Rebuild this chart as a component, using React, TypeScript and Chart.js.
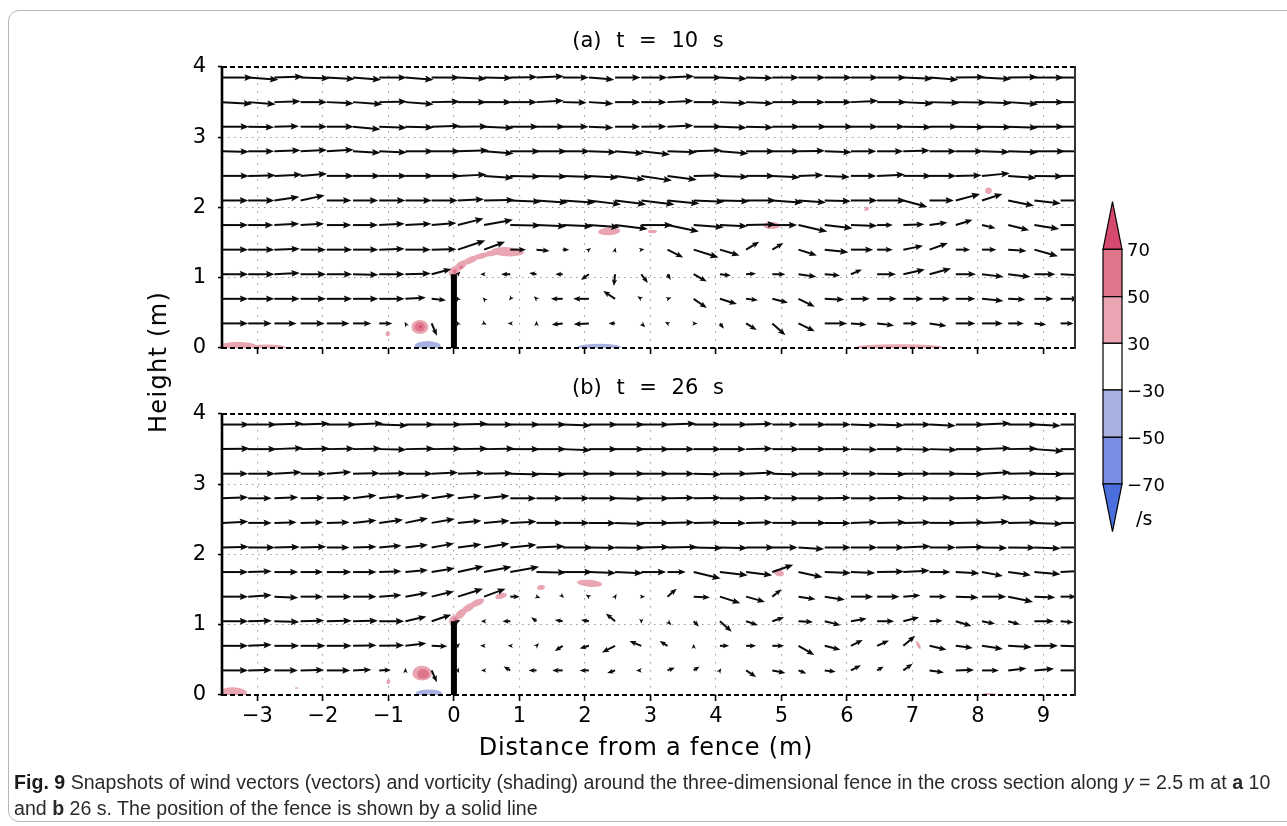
import React, { useEffect, useRef } from "react";
import { Chart, registerables } from "chart.js";
Chart.register(...registerables);

const FONT = "'DejaVu Sans', sans-serif";

const X_TICKS = [-3, -2, -1, 0, 1, 2, 3, 4, 5, 6, 7, 8, 9];
const Y_TICKS = [0, 1, 2, 3, 4];
const X_RANGE = [-3.54, 9.48];
const Y_RANGE = [0, 4];

// model grid of the vectors (tail positions)
const GRID_X = [-3.54, -3.14, -2.74, -2.34, -1.94, -1.54, -1.14, -0.74, -0.34, 0.06, 0.46, 0.86, 1.26, 1.66, 2.06, 2.46, 2.86,
  3.26, 3.66, 4.06, 4.46, 4.86, 5.26, 5.66, 6.06, 6.46, 6.86, 7.26, 7.66, 8.06, 8.46, 8.86, 9.26];
const GRID_Y = [0.35, 0.7, 1.05, 1.4, 1.75, 2.1, 2.45, 2.8, 3.15, 3.5, 3.85];

const FENCE_X = [0, 0];
const FENCE_Y = [0, 1.05];

// ---------- panel (a) t = 10 s : u, v (relative to grid spacing) ----------
const A_U_035 = [1.0, 0.9, 0.85, 0.92, 0.87, 0.7, 0.5, -0.03, 0.2, -0.05, 0.1, -0.1, 0, -0.42, -0.58, -0.25, 0.15,
  -0.1, 0.15, 0.15, 0.4, 0.5, 0.62, 0.85, 0.6, 0.65, 0.55, 0.65, 0.75, 0.8, 0.6, 0.45, 0.5];
const A_V_035 = [0, 0, 0, 0, 0, 0, 0, 0.06, -0.47, 0.1, -0.05, 0, 0.1, -0.05, -0.03, 0, -0.15,
  0.05, 0, -0.2, -0.25, -0.45, -0.3, 0, -0.05, -0.08, 0, -0.1, 0, 0, 0, -0.05, 0];
const A_U_070 = [1.0, 1.0, 0.97, 0.97, 0.97, 0.97, 0.97, 0.78, 0.55, -0.05, -0.05, -0.05, -0.1, -0.45, -0.6, -0.45, -0.15,
  0.15, 0.5, 0.65, 0.45, 0.6, 0.62, 0.75, 0.72, 0.75, 0.77, 0.78, 0.75, 0.82, 0.65, 0.72, 0.7];
const A_V_070 = [0, 0, 0, 0, 0, 0, 0, 0.05, -0.05, 0.1, 0.06, -0.06, 0.1, 0, 0, 0.3, 0.1,
  0.05, -0.35, -0.2, -0.05, -0.15, -0.3, -0.03, 0, 0, 0, 0, 0, -0.08, -0.03, 0, 0];
const A_U_105 = [1.0, 1.0, 0.97, 0.97, 0.97, 0.97, 0.97, 0.97, 0.75, 0.1, -0.15, -0.35, -0.28, -0.28, -0.3, -0.05, 0.25,
  0.12, 0.5, 0.42, 0.38, 0.5, 0.68, 0.58, 0.42, 0.72, 0.82, 0.82, 0.77, 0.82, 0.85, 0.8, 0.85];
const A_V_105 = [0, 0, 0.05, 0, 0, -0.02, 0, 0.03, 0.2, 0.1, 0, 0, 0.05, 0, -0.22, -0.45, -0.33,
  -0.22, -0.28, -0.05, 0.03, 0, -0.1, -0.05, 0.18, 0, 0.18, 0.22, 0, -0.1, -0.1, 0, -0.05];
const A_U_140 = [1.0, 1.0, 0.97, 0.97, 0.97, 0.97, 0.97, 0.97, 0.95, 1.05, 0.8, 0.6, 0.5, 0.25, 0.08, 0.02, 0.12,
  0.6, 0.95, 0.75, 0.5, 0.42, 0.7, 0.9, 0.85, 0.6, 0.75, 0.7, 0.55, 0.55, 0.7, 0.9, 0.95];
const A_V_140 = [0, 0, 0.03, 0, 0, 0, 0.03, 0, 0.02, 0.35, 0.3, 0, -0.05, 0, 0.06, 0.08, 0.02,
  -0.3, -0.3, -0.22, 0.3, 0.25, -0.22, -0.1, 0, 0, 0.15, 0.25, 0, 0, -0.05, -0.25, 0];
const A_U_175 = [1.0, 0.96, 0.95, 0.9, 0.94, 0.96, 0.97, 0.99, 0.95, 0.98, 1.1, 1.17, 1.14, 1.15, 1.17, 1.25,
  1.2, 1.2, 1.15, 1.06, 1.14, 0.95, 1.1, 1.06, 1.01, 0.6, 0.8, 0.68, 0.64, 0.52, 0.8, 0.95, 0.95];
const A_V_175 = [0, 0, 0.05, 0.05, 0, 0, 0.05, 0.05, 0.08, 0.25, 0.2, -0.02, -0.05, -0.05, -0.08, -0.15,
  0, -0.25, -0.08, -0.05, 0.03, 0, -0.25, -0.12, -0.03, 0, 0.03, 0.1, 0.2, -0.12, -0.2, -0.15, 0];
const A_U_210 = [1.0, 1.0, 0.95, 0.92, 0.94, 0.96, 1.0, 1.0, 1.0, 1.0, 1.17, 1.19, 1.2, 1.25, 1.23, 1.19,
  1.27, 1.22, 1.18, 1.13, 1.14, 1.17, 1.05, 1.0, 1.01, 1.1, 0.92, 0.93, 0.93, 0.78, 0.99, 1.01, 1.0];
const A_V_210 = [0, 0, 0.14, 0.2, 0, 0, 0, 0, 0, 0.05, 0.02, -0.05, -0.08, -0.08, -0.15, -0.15,
  -0.15, -0.12, -0.05, -0.03, 0, -0.08, -0.08, -0.03, 0, 0, -0.25, 0, 0.25, 0.25, -0.2, -0.12, 0];
const A_U_245 = [1.03, 1.05, 1.06, 1.01, 1.03, 1.05, 1.06, 1.08, 1.1, 1.09, 1.13, 1.15, 1.17, 1.12, 1.13, 1.15,
  1.17, 1.12, 1.08, 1.09, 1.1, 1.06, 0.95, 0.96, 0.97, 1.06, 1.08, 1.03, 0.99, 1.06, 1.08, 1.1, 1.05];
const A_V_245 = [0, 0.02, 0.05, 0.08, 0, 0, 0, 0, 0, 0.05, -0.08, -0.03, -0.03, -0.04, -0.07, -0.15,
  -0.18, -0.15, 0.02, -0.04, 0, -0.06, 0.03, -0.04, 0, 0.05, 0, 0, 0.02, 0.1, -0.08, -0.02, 0];
const A_U_280 = [1.03, 0.99, 1.0, 1.01, 1.03, 1.05, 1.06, 1.08, 1.1, 1.18, 1.13, 1.15, 1.17, 1.05, 1.06, 1.09,
  1.1, 1.12, 1.08, 1.09, 1.1, 1.06, 1.01, 1.03, 0.97, 1.0, 1.01, 1.03, 1.05, 1.06, 1.14, 1.17, 1.1];
const A_V_280 = [-0.02, 0, 0.04, 0.05, 0.06, -0.06, -0.05, 0, 0, 0.04, -0.08, 0, 0, 0, -0.04, -0.08,
  -0.12, -0.04, 0.04, -0.08, 0, 0, 0.02, -0.04, 0, 0, 0.03, 0, 0, -0.03, -0.04, 0, 0];
const A_U_315 = [1.03, 0.99, 0.94, 1.01, 1.03, 1.05, 1.06, 1.08, 1.1, 1.15, 1.13, 1.09, 1.1, 0.99, 0.94, 0.96,
  0.97, 0.99, 1.08, 1.03, 1.04, 1.06, 1.08, 1.09, 1.04, 1.06, 1.08, 1.09, 1.11, 1.13, 1.14, 1.14, 1.1];
const A_V_315 = [0, -0.02, 0.02, 0, 0, -0.1, -0.04, -0.03, 0.03, 0.01, -0.05, 0, 0, 0, -0.04, 0,
  0.01, 0.05, 0, -0.04, -0.03, 0, 0, 0, 0, 0, -0.02, 0, -0.02, -0.02, -0.04, 0, 0];
const A_U_350 = [1.15, 1.05, 1.0, 1.01, 1.03, 1.12, 1.06, 1.08, 1.08, 1.09, 1.06, 1.03, 1.04, 0.92, 0.94, 0.96,
  0.97, 0.99, 1.01, 1.03, 1.04, 1.06, 1.01, 1.03, 1.04, 1.13, 1.14, 1.15, 1.18, 1.13, 1.14, 1.14, 1.1];
const A_V_350 = [-0.07, -0.08, 0.03, 0, -0.05, -0.08, 0.02, -0.08, 0.02, 0, 0, 0, 0.06, -0.02, -0.06, 0,
  0, 0.05, 0, -0.04, -0.05, 0, 0, 0, 0.05, 0, -0.06, -0.03, -0.02, -0.04, -0.08, 0, 0];
const A_U_385 = [1.18, 1.15, 1.1, 1.12, 1.07, 1.07, 1.05, 1.07, 1.08, 1.1, 1.08, 1.04, 1.05, 1.0, 0.97, 0.97,
  1.0, 1.02, 1.08, 1.04, 1.03, 1.02, 1.03, 1.04, 1.05, 1.12, 1.13, 1.1, 1.12, 1.12, 1.13, 1.13, 1.1];
const A_V_385 = [0, -0.08, 0.04, -0.03, -0.06, -0.08, 0, -0.08, 0, -0.05, -0.02, 0.02, 0.05, 0, -0.08, 0,
  0, 0.05, 0, -0.05, -0.02, 0, 0, 0, 0, 0, -0.05, -0.08, 0.02, -0.06, 0.02, 0, 0];

// ---------- panel (b) t = 26 s ----------
const B_U_035 = [1.0, 0.9, 0.9, 0.9, 0.9, 0.7, 0.45, 0, 0.2, 0.05, -0.12, -0.25, -0.3, -0.4, -0.35, -0.3, -0.2,
  0.28, 0.22, 0.05, 0.38, 0.5, 0.3, 0.42, 0.38, 0.25, 0.35, 0.55, 0.7, 0.65, 0.7, 0.75, 0.8];
const B_V_035 = [0, 0.02, 0, 0.02, 0, 0.03, 0.02, 0.1, -0.45, -0.1, 0, 0.15, 0, 0, 0, -0.1, 0,
  0.1, 0.15, 0.08, -0.25, -0.1, -0.12, -0.05, 0.2, 0.15, 0.25, -0.08, 0.02, 0, 0.08, 0.06, 0];
const B_U_070 = [1.0, 0.9, 0.95, 0.95, 0.95, 0.9, 0.95, 0.8, 0.6, 0, -0.15, -0.1, 0.1, -0.3, -0.35, -0.5, -0.45,
  -0.3, 0, 0.35, 0.38, 0.45, 0.6, 0.6, 0.45, 0.45, 0.45, 0.65, 0.65, 0.8, 0.9, 0.9, 0.85];
const B_V_070 = [0, 0.04, 0, 0, 0, 0.02, 0.02, 0.1, -0.02, -0.1, 0, 0, 0.1, -0.2, -0.1, -0.25, 0.18,
  0.18, 0.08, 0, 0, 0, -0.35, -0.15, 0.22, 0.2, 0.38, -0.15, -0.08, -0.12, -0.05, 0, -0.03];
const B_U_105 = [1.0, 0.9, 0.95, 0.9, 0.95, 0.95, 0.95, 0.8, 0.75, 0.1, -0.12, -0.3, -0.2, -0.3, -0.3, -0.35, 0,
  0.15, 0.2, 0.45, 0.45, 0.45, 0.55, 0.6, 0.6, 0.65, 0.6, 0.5, 0.6, 0.5, 0.45, 0.75, 0.5];
const B_V_105 = [0, 0.02, -0.03, 0.03, 0.02, 0.02, 0, 0.18, 0.25, 0.05, 0, 0, 0.15, 0.05, 0.05, 0.3, -0.1,
  -0.15, -0.2, -0.4, -0.15, 0.15, -0.03, -0.15, 0.1, 0, 0.15, 0.02, -0.18, -0.1, -0.12, 0, -0.05];
const B_U_140 = [1.0, 0.9, 0.91, 0.86, 0.94, 0.9, 0.85, 0.86, 0.85, 0.96, 0.82, 0.36, 0.15, 0.05, -0.12, 0.06, 0.15,
  0.35, 0.62, 0.78, 0.72, 0.35, 0.65, 0.77, 0.85, 0.85, 0.65, 0.65, 0.87, 0.93, 0.95, 0.8, 0.6];
const B_V_140 = [0, 0.06, -0.04, 0, 0, 0, 0.06, 0.15, 0.2, 0.3, 0.3, 0, -0.05, -0.05, 0.08, 0.1, 0,
  0.3, -0.03, -0.25, -0.2, 0.28, -0.1, -0.12, 0, 0, 0.05, 0, -0.03, 0, -0.2, -0.03, 0];
const B_U_175 = [1.0, 0.9, 0.91, 0.86, 0.94, 0.9, 0.85, 0.86, 0.88, 0.98, 1.05, 1.1, 1.14, 1.15, 1.04, 1.06,
  0.95, 0.7, 1.03, 1.06, 1.0, 0.8, 0.92, 1.0, 0.93, 1.03, 1.0, 0.8, 0.9, 0.8, 0.87, 1.0, 0.9];
const B_V_175 = [0, 0.03, 0, 0, 0, 0, 0.03, 0.08, 0.15, 0.22, 0.2, 0.2, -0.02, 0, -0.04, -0.05,
  0, 0, -0.25, -0.12, -0.12, 0.28, -0.2, -0.04, -0.04, 0.02, 0.06, 0, -0.05, -0.15, -0.12, -0.08, 0.05];
const B_U_210 = [1.02, 1.02, 0.97, 0.98, 0.87, 0.9, 0.85, 0.86, 0.85, 0.9, 0.97, 1.0, 1.08, 1.15, 1.04, 1.13,
  1.08, 1.15, 1.11, 1.06, 1.08, 0.97, 0.98, 1.0, 1.01, 1.04, 1.05, 1.0, 1.09, 0.97, 1.05, 1.01, 1.0];
const B_V_210 = [0.03, 0, 0.02, 0.03, 0, 0.03, 0.08, 0.1, 0.15, 0.12, 0.15, 0.1, 0.05, 0, -0.01, -0.01,
  0.02, 0.02, -0.02, -0.02, 0, 0, -0.06, 0, 0, 0, 0.05, 0, 0.02, -0.02, -0.01, -0.04, 0];
const B_U_245 = [1.0, 0.9, 0.85, 0.86, 0.87, 0.9, 0.91, 0.86, 0.88, 0.9, 0.97, 1.0, 1.01, 1.03, 1.04, 1.13,
  1.08, 1.03, 1.05, 1.0, 1.01, 1.04, 1.05, 1.0, 1.01, 1.1, 1.05, 1.06, 1.09, 1.04, 1.12, 1.08, 1.05];
const B_V_245 = [0.05, 0, 0.02, 0.02, 0.02, 0.1, 0.12, 0.18, 0.15, 0.08, 0.08, 0.05, 0, 0, -0.01, -0.04,
  0, 0.02, 0.02, -0.01, 0.02, 0, 0, -0.01, 0.03, 0.02, 0.02, 0, 0.02, 0.05, 0.02, -0.04, 0];
const B_U_280 = [1.0, 0.9, 0.91, 0.92, 0.94, 0.9, 0.97, 0.92, 0.88, 0.9, 0.97, 1.0, 1.01, 1.03, 1.1, 1.13,
  1.08, 1.03, 1.05, 1.06, 1.01, 1.04, 1.05, 1.0, 1.01, 1.1, 1.05, 1.06, 1.09, 1.1, 1.12, 1.12, 1.08];
const B_V_280 = [0.04, 0, 0.04, 0.02, 0.02, 0.12, 0.1, 0.12, 0.13, 0.1, 0.1, 0, 0, 0, 0, -0.02,
  0, 0.02, 0.02, 0, 0.02, 0, 0, 0.02, 0, 0.02, 0, 0, 0.02, 0.05, 0.01, 0, 0];
const B_U_315 = [1.0, 1.03, 1.04, 0.99, 0.94, 1.03, 1.04, 1.05, 1.01, 1.03, 1.1, 1.13, 1.14, 1.09, 1.1, 1.13,
  1.08, 1.03, 1.05, 1.06, 1.08, 1.04, 1.05, 1.0, 1.01, 1.1, 1.05, 1.06, 1.09, 1.1, 1.12, 1.12, 1.08];
const B_V_315 = [0, 0, 0.06, 0, 0.07, 0.02, 0.02, 0, 0.05, 0.03, 0.02, -0.03, -0.03, 0, 0, 0,
  0, 0, -0.03, 0, 0.05, -0.03, 0, 0, 0, -0.02, 0, 0, -0.02, 0.06, 0.02, -0.02, 0];
const B_U_350 = [1.06, 1.09, 1.1, 1.11, 1.06, 1.09, 1.04, 1.11, 1.14, 1.15, 1.17, 1.13, 1.14, 1.09, 1.1, 1.13,
  1.08, 1.03, 1.05, 1.0, 1.01, 1.04, 1.05, 1.0, 1.01, 1.04, 1.05, 1.06, 1.09, 1.1, 1.12, 1.12, 1.08];
const B_V_350 = [0.02, 0, 0.04, 0.02, 0.02, 0.02, -0.02, 0.02, 0.02, 0.02, 0.02, 0, 0, -0.04, 0, 0,
  0, 0, 0, 0, 0.02, 0, 0, 0, -0.02, 0, -0.02, -0.03, 0, 0.04, 0.02, -0.08, 0];
const B_U_385 = [1.06, 1.09, 1.1, 1.11, 1.13, 1.15, 1.1, 1.11, 1.14, 1.15, 1.1, 1.13, 1.14, 1.09, 1.1, 1.13,
  1.08, 1.09, 1.05, 1.06, 1.01, 0.97, 1.05, 1.0, 1.01, 1.04, 1.05, 1.0, 1.09, 1.1, 1.12, 1.01, 1.05];
const B_V_385 = [0, 0, 0.04, 0.04, 0, 0.05, -0.04, 0, 0, 0.03, 0, 0, 0, -0.04, 0, 0,
  0, 0.04, 0, 0, 0.03, 0, 0, 0, -0.03, -0.03, 0, -0.05, 0, 0.05, 0, -0.05, 0];

// ---------- vorticity shading (approximate patches): centre, half sizes (m), tilt (deg), level ----------
const A_BLOB_X = [-3.3, -2.85, -0.4, 2.22, 6.8, -1.01, -0.52, -0.52, -0.51, 0.0, 0.1, 0.25, 0.42, 0.58, 0.82, 0.01, 0.11, 2.37, 3.03, 4.85, 6.3, 8.16];
const A_BLOB_Y = [0.01, 0.0, 0.02, 0.01, 0.01, 0.2, 0.3, 0.3, 0.3, 1.09, 1.17, 1.25, 1.31, 1.35, 1.37, 1.09, 1.15, 1.66, 1.66, 1.745, 1.98, 2.24];
const A_BLOB_W = [0.3, 0.3, 0.2, 0.33, 0.66, 0.035, 0.13, 0.08, 0.025, 0.09, 0.12, 0.14, 0.13, 0.12, 0.25, 0.035, 0.03, 0.17, 0.07, 0.13, 0.04, 0.05];
const A_BLOB_H = [0.08, 0.05, 0.08, 0.05, 0.045, 0.035, 0.1, 0.065, 0.02, 0.065, 0.055, 0.045, 0.04, 0.04, 0.065, 0.025, 0.022, 0.055, 0.025, 0.05, 0.025, 0.045];
const A_BLOB_ROT = [0, 0, 0, 0, 0, 0, 0, 0, 0, 50, 38, 25, 15, 8, -3, 45, 30, 3, 0, 0, 30, 0];
const A_BLOB_LVL = [1, 1, -1, -1, 1, 1, 1, 2, 3, 1, 1, 1, 1, 1, 1, 2, 2, 1, 1, 1, 1, 1];

const B_BLOB_X = [-3.38, -2.4, -0.38, 8.16, -1.0, -0.485, -0.47, 0.0, 0.1, 0.22, 0.35, 0.02, 0.72, 1.33, 2.07, 4.96, 7.09];
const B_BLOB_Y = [0.03, 0.1, 0.02, 0.0, 0.19, 0.31, 0.3, 1.06, 1.15, 1.24, 1.31, 1.07, 1.41, 1.53, 1.59, 1.74, 0.71];
const B_BLOB_W = [0.22, 0.03, 0.2, 0.12, 0.03, 0.15, 0.09, 0.08, 0.1, 0.12, 0.12, 0.035, 0.09, 0.06, 0.19, 0.08, 0.065];
const B_BLOB_H = [0.08, 0.012, 0.06, 0.03, 0.035, 0.105, 0.07, 0.065, 0.055, 0.05, 0.045, 0.03, 0.04, 0.035, 0.05, 0.05, 0.022];
const B_BLOB_ROT = [0, 0, 0, 0, 0, 0, 0, 55, 42, 32, 25, 45, 15, 10, -5, -20, -65];
const B_BLOB_LVL = [1, 1, -1, 1, 1, 1, 2, 1, 1, 1, 1, 2, 1, 1, 1, 1, 1];

// colour bar
const CBAR_LABELS = ["70", "50", "30", "\u221230", "\u221250", "\u221270"];
const LEVEL_COLORS: Record<string, string> = {
  "3": "#d6496f", "2": "#e0768b", "1": "#e9a5b2",
  "-1": "#a8b1e1", "-2": "#7b8de2", "-3": "#4a6edb",
};
const CBAR_BOX_LEVELS = [2, 1, 0, -1, -2];

const fmtTick = (v: number) => (v < 0 ? "\u2212" + Math.abs(v) : String(v));

function clipArea(ctx: CanvasRenderingContext2D, a: any) {
  ctx.beginPath();
  ctx.rect(a.left, a.top, a.right - a.left, a.bottom - a.top);
  ctx.clip();
}

function makeBlobPlugin(bx: number[], by: number[], bw: number[], bh: number[], br: number[], bl: number[]) {
  return {
    id: "blobs",
    beforeDatasetsDraw(chart: any) {
      const { ctx, chartArea, scales } = chart;
      const xs = scales.x, ys = scales.y;
      ctx.save();
      clipArea(ctx, chartArea);
      bx.forEach((cxv, i) => {
        const cx = xs.getPixelForValue(cxv);
        const cy = ys.getPixelForValue(by[i]);
        const rx = Math.abs(xs.getPixelForValue(cxv + bw[i]) - cx);
        const ry = Math.abs(ys.getPixelForValue(by[i] + bh[i]) - cy);
        ctx.fillStyle = LEVEL_COLORS[String(bl[i])];
        ctx.beginPath();
        ctx.ellipse(cx, cy, rx, ry, (-br[i] * Math.PI) / 180, 0, Math.PI * 2);
        ctx.fill();
      });
      ctx.restore();
    },
  };
}

function makeVectorPlugin(U: number[][], V: number[][]) {
  return {
    id: "vectors",
    afterDatasetsDraw(chart: any) {
      const { ctx, chartArea, scales } = chart;
      const xs = scales.x, ys = scales.y;
      const unit = xs.getPixelForValue(GRID_X[1]) - xs.getPixelForValue(GRID_X[0]);
      ctx.save();
      clipArea(ctx, chartArea);
      ctx.strokeStyle = "#0a0a0a";
      ctx.fillStyle = "#0a0a0a";
      ctx.lineWidth = 2;
      ctx.lineCap = "butt";
      GRID_Y.forEach((gy, r) => {
        GRID_X.forEach((gx, c) => {
          const u = U[r][c], v = V[r][c];
          const x0 = xs.getPixelForValue(gx);
          const y0 = ys.getPixelForValue(gy);
          const dx = u * unit, dy = -v * unit;
          const len = Math.hypot(dx, dy);
          if (len < 0.3) return;
          const ux = dx / len, uy = dy / len;
          const hl = Math.min(8.5, 5 + len * 0.14);
          const hw = hl * 0.4;
          const x1 = x0 + dx, y1 = y0 + dy;
          const bxp = x1 - ux * hl, byp = y1 - uy * hl;
          if (len > hl) {
            ctx.beginPath();
            ctx.moveTo(x0, y0);
            ctx.lineTo(bxp + ux * 2, byp + uy * 2);
            ctx.stroke();
          }
          ctx.beginPath();
          ctx.moveTo(x1, y1);
          ctx.lineTo(bxp - uy * hw, byp + ux * hw);
          ctx.lineTo(bxp + ux * 1.5, byp + uy * 1.5);
          ctx.lineTo(bxp + uy * hw, byp - ux * hw);
          ctx.closePath();
          ctx.fill();
        });
      });
      ctx.restore();
    },
  };
}

const framePlugin = {
  id: "frame",
  afterDraw(chart: any) {
    const { ctx, chartArea: a } = chart;
    ctx.save();
    ctx.strokeStyle = "#000";
    ctx.lineWidth = 2;
    ctx.setLineDash([5, 3]);
    ctx.beginPath();
    ctx.moveTo(a.left, a.top); ctx.lineTo(a.right, a.top);
    ctx.moveTo(a.left, a.bottom); ctx.lineTo(a.right, a.bottom);
    ctx.stroke();
    ctx.setLineDash([]);
    ctx.lineWidth = 2.6;
    ctx.beginPath();
    ctx.moveTo(a.left, a.top - 1); ctx.lineTo(a.left, a.bottom + 1);
    ctx.stroke();
    ctx.lineWidth = 2;
    ctx.strokeStyle = "#333";
    ctx.beginPath();
    ctx.moveTo(a.right, a.top - 1); ctx.lineTo(a.right, a.bottom + 1);
    ctx.stroke();
    ctx.restore();
  },
};

function buildPanel(canvas: HTMLCanvasElement, cfg: any) {
  const fence = FENCE_X.map((x, i) => ({ x, y: FENCE_Y[i] }));
  return new Chart(canvas, {
    type: "scatter",
    data: {
      datasets: [
        {
          type: "line",
          data: fence,
          borderColor: "#000",
          borderWidth: 6,
          pointRadius: 0,
          showLine: true,
          fill: false,
          borderCapStyle: "butt",
        } as any,
      ],
    },
    options: {
      animation: false,
      responsive: false,
      devicePixelRatio: 1,
      events: [],
      layout: { padding: { left: 162, right: 212, top: cfg.top, bottom: cfg.bottomPad } },
      plugins: { legend: { display: false }, tooltip: { enabled: false }, title: { display: false } },
      scales: {
        x: {
          type: "linear",
          min: X_RANGE[0],
          max: X_RANGE[1],
          afterBuildTicks: (s: any) => { s.ticks = X_TICKS.map((value) => ({ value })); },
          afterFit: (s: any) => { s.height = cfg.xh; },
          ticks: {
            display: cfg.labels,
            color: "#000",
            font: { family: FONT, size: 21 },
            padding: 3,
            autoSkip: false,
            maxRotation: 0,
            callback: (v: any) => fmtTick(Number(v)),
          },
          grid: { color: "#9a9a9a", lineWidth: 1.1, drawTicks: true, tickLength: 6, tickColor: "#000", tickWidth: 1.6 },
          border: { display: false, dash: [1.5, 6.5] },
        },
        y: {
          type: "linear",
          min: Y_RANGE[0],
          max: Y_RANGE[1],
          afterBuildTicks: (s: any) => { s.ticks = Y_TICKS.map((value) => ({ value })); },
          afterFit: (s: any) => { s.width = 60; },
          ticks: {
            color: "#000",
            font: { family: FONT, size: 21 },
            padding: 12,
            callback: (v: any) => fmtTick(Number(v)),
          },
          grid: {
            color: (c: any) => (c.tick && (c.tick.value === 0 || c.tick.value === 4) ? "rgba(0,0,0,0)" : "#9a9a9a"),
            lineWidth: 1.1,
            drawTicks: true,
            tickLength: 4,
            tickColor: "#000",
            tickWidth: 1.6,
          },
          border: { display: false, dash: [1.5, 4.5] },
        },
      },
    } as any,
    plugins: [makeBlobPlugin(cfg.bx, cfg.by, cfg.bw, cfg.bh, cfg.br, cfg.bl), makeVectorPlugin(cfg.U, cfg.V), framePlugin],
  });
}

function ColorBar() {
  const x0 = 1103, x1 = 1122, xm = (x0 + x1) / 2;
  const edges = [249.3, 296.7, 343.3, 390, 437.3, 484];
  const tipTop = 201.7, tipBot = 531.7;
  return (
    <svg width={1287} height={826} style={{ position: "absolute", left: 0, top: 0, pointerEvents: "none" }}>
      <polygon points={`${xm},${tipTop} ${x1},${edges[0]} ${x0},${edges[0]}`} fill={LEVEL_COLORS["3"]} stroke="#000" strokeWidth={1.2} />
      {CBAR_BOX_LEVELS.map((lv, i) => (
        <rect key={i} x={x0} y={edges[i]} width={x1 - x0} height={edges[i + 1] - edges[i]}
          fill={lv === 0 ? "#ffffff" : LEVEL_COLORS[String(lv)]} stroke="#000" strokeWidth={1.2} />
      ))}
      <polygon points={`${x0},${edges[5]} ${x1},${edges[5]} ${xm},${tipBot}`} fill={LEVEL_COLORS["-3"]} stroke="#000" strokeWidth={1.2} />
      {CBAR_LABELS.map((t, i) => (
        <text key={t} x={1127} y={edges[i] + 6.5} fontFamily={FONT} fontSize={18} fill="#000">{t}</text>
      ))}
      <text x={1136} y={525} fontFamily={FONT} fontSize={19} fill="#000">/s</text>
    </svg>
  );
}

export default function App() {
  const refA = useRef<HTMLCanvasElement>(null);
  const refB = useRef<HTMLCanvasElement>(null);

  useEffect(() => {
    const ca = buildPanel(refA.current as HTMLCanvasElement, {
      top: 67, bottomPad: 826 - 348 - 30, xh: 30, labels: false,
      U: [A_U_035, A_U_070, A_U_105, A_U_140, A_U_175, A_U_210, A_U_245, A_U_280, A_U_315, A_U_350, A_U_385],
      V: [A_V_035, A_V_070, A_V_105, A_V_140, A_V_175, A_V_210, A_V_245, A_V_280, A_V_315, A_V_350, A_V_385],
      bx: A_BLOB_X, by: A_BLOB_Y, bw: A_BLOB_W, bh: A_BLOB_H, br: A_BLOB_ROT, bl: A_BLOB_LVL,
    });
    const cb = buildPanel(refB.current as HTMLCanvasElement, {
      top: 414, bottomPad: 826 - 695 - 50, xh: 50, labels: true,
      U: [B_U_035, B_U_070, B_U_105, B_U_140, B_U_175, B_U_210, B_U_245, B_U_280, B_U_315, B_U_350, B_U_385],
      V: [B_V_035, B_V_070, B_V_105, B_V_140, B_V_175, B_V_210, B_V_245, B_V_280, B_V_315, B_V_350, B_V_385],
      bx: B_BLOB_X, by: B_BLOB_Y, bw: B_BLOB_W, bh: B_BLOB_H, br: B_BLOB_ROT, bl: B_BLOB_LVL,
    });
    return () => { ca.destroy(); cb.destroy(); };
  }, []);

  const txt: React.CSSProperties = { position: "absolute", fontFamily: FONT, color: "#000", whiteSpace: "pre" };

  return (
    <div style={{ position: "absolute", left: 0, top: 0, width: 1287, height: 826, overflow: "hidden", background: "#fff" }}>
      <div style={{ position: "absolute", left: 8, top: 10, width: 1300, height: 812, border: "1px solid #b5b5b5", borderRadius: "11px 0 0 11px", boxSizing: "border-box" }} />
      <canvas ref={refA} width={1287} height={826} style={{ position: "absolute", left: 0, top: 0 }} />
      <canvas ref={refB} width={1287} height={826} style={{ position: "absolute", left: 0, top: 0 }} />
      <div style={{ ...txt, left: 448, width: 400, top: 27, fontSize: 21, lineHeight: "26px", textAlign: "center", wordSpacing: 8 }}>(a) t = 10 s</div>
      <div style={{ ...txt, left: 448, width: 400, top: 374, fontSize: 21, lineHeight: "26px", textAlign: "center", wordSpacing: 8 }}>(b) t = 26 s</div>
      <div style={{ ...txt, left: 158, top: 362, fontSize: 24, lineHeight: "28px", letterSpacing: 1.3, transform: "translate(-50%, -50%) rotate(-90deg)" }}>Height (m)</div>
      <div style={{ ...txt, left: 296, width: 700, top: 733, fontSize: 24, lineHeight: "28px", textAlign: "center", letterSpacing: 0.8 }}>Distance from a fence (m)</div>
      <ColorBar />
      <div style={{ position: "absolute", left: 14, top: 769, width: 1272, fontFamily: "'Liberation Sans', sans-serif", fontSize: 19.6, lineHeight: "26px", color: "#2a2a2a", whiteSpace: "nowrap" }}>
        <b style={{ color: "#1a1a1a" }}>Fig. 9</b>{"  "}Snapshots of wind vectors (vectors) and vorticity (shading) around the three-dimensional fence in the cross section along <i>y</i> = 2.5 m at <b>a</b> 10
        <br />
        and <b>b</b> 26 s. The position of the fence is shown by a solid line
      </div>
    </div>
  );
}
